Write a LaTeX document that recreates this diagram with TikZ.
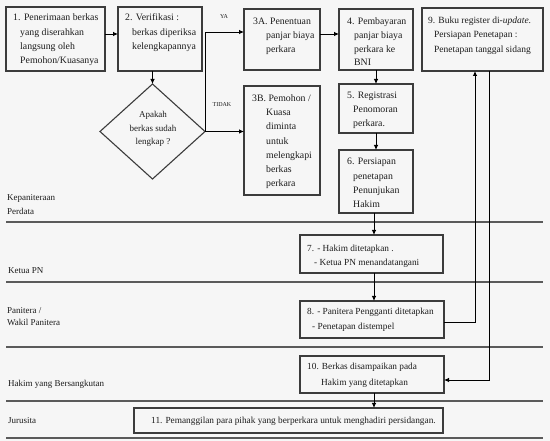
\documentclass[tikz,border=0pt]{standalone}
\usepackage{fontspec}
\setmainfont{Liberation Serif}
\usetikzlibrary{arrows.meta,shapes.geometric,calc}
\definecolor{bg}{RGB}{246,246,246}
\definecolor{ink}{RGB}{28,28,28}
\definecolor{edge}{RGB}{60,60,60}
\definecolor{lane}{RGB}{90,90,90}
\newcommand\mlines[1]{\begin{tabular}[t]{@{}l@{}}#1\end{tabular}}
\newcommand\mlinesc[1]{\begin{tabular}[t]{@{}c@{}}#1\end{tabular}}
\begin{document}
\begin{tikzpicture}[x=1pt,y=-1pt,
  box/.style={draw=edge,line width=1.1pt,anchor=north west,inner sep=0pt,outer sep=0pt},
  arr/.style={draw=black,line width=0.8pt,-{Latex[length=5pt,width=4.5pt]}},
  big/.style={anchor=base west,inner sep=0pt,text=ink,font=\fontsize{9.8}{14.2}\selectfont},
  small/.style={anchor=base west,inner sep=0pt,text=ink,font=\fontsize{9.3}{15}\selectfont},
  lanetxt/.style={anchor=base west,inner sep=0pt,text=ink,font=\fontsize{9}{13.5}\selectfont},
  tiny/.style={inner sep=0pt,text=ink,font=\fontsize{6}{7}\selectfont}]
\fill[bg] (0,0) rectangle (550,441);
\useasboundingbox (0,0) rectangle (550,441);

% lanes
\foreach \yy/\w in {222/1.1,282/1.8,347/1.1,401/1.1,438/1.1}
  \draw[draw=lane,line width=\w pt] (6,\yy) -- (543,\yy);

% boxes
\node[box,minimum width=99pt,minimum height=64pt] (b1) at (6,7) {};
\node[box,minimum width=84pt,minimum height=64pt] (b2) at (118,7) {};
\node[box,minimum width=76pt,minimum height=61pt] (b3a) at (244,9) {};
\node[box,minimum width=74pt,minimum height=61pt] (b4) at (339,9) {};
\node[box,minimum width=121pt,minimum height=63pt] (b9) at (422,8) {};
\node[box,minimum width=76pt,minimum height=109pt] (b3b) at (244,86) {};
\node[box,minimum width=74pt,minimum height=49pt] (b5) at (339,84) {};
\node[box,minimum width=74pt,minimum height=63pt] (b6) at (339,150) {};
\node[box,minimum width=143pt,minimum height=38pt] (b7) at (300,235) {};
\node[box,minimum width=144pt,minimum height=37pt] (b8) at (300,301) {};
\node[box,minimum width=144pt,minimum height=37pt] (b10) at (300,356) {};
\node[box,minimum width=309pt,minimum height=25pt] (b11) at (134,408) {};
\node[diamond,draw=edge,line width=1.1pt,minimum width=105pt,minimum height=95pt,inner sep=0pt,outer sep=0pt] (dm) at (152.5,131.5) {};

% texts
\node[big] (t1) at (13,21) {\mlines{1.\hspace*{3.5pt}Penerimaan berkas\\\hspace*{7pt}yang diserahkan\\\hspace*{7pt}langsung oleh\\\hspace*{7pt}Pemohon/Kuasanya}};
\node[big] (t2) at (125,21) {\mlines{2. Verifikasi :\\\hspace*{7pt}berkas diperiksa\\\hspace*{7pt}kelengkapannya}};
\node[big,font=\fontsize{9.8}{14}\selectfont] (t3a) at (253,24.5) {\mlines{3A. Penentuan\\\hspace*{13pt}panjar biaya\\\hspace*{13pt}perkara}};
\node[big,font=\fontsize{9.8}{13.8}\selectfont] (t4) at (347,24.5) {\mlines{4. Pembayaran\\\hspace*{7pt}panjar biaya\\\hspace*{7pt}perkara ke\\\hspace*{7pt}BNI}};
\node[big,font=\fontsize{9.5}{14.5}\selectfont] (t9) at (428,23.5) {\mlines{9. Buku register di-\textit{update}.\\\hspace*{6pt}Persiapan Penetapan :\\\hspace*{6pt}Penetapan tanggal sidang}};
\node[big] (t3b) at (252,101.5) {\mlines{3B. Pemohon /\\\hspace*{14pt}Kuasa\\\hspace*{14pt}diminta\\\hspace*{14pt}untuk\\\hspace*{14pt}melengkapi\\\hspace*{14pt}berkas\\\hspace*{14pt}perkara}};
\node[big,font=\fontsize{9.8}{14}\selectfont] (t5) at (347,99) {\mlines{5. Registrasi\\\hspace*{6pt}Penomoran\\\hspace*{6pt}perkara.}};
\node[big] (t6) at (347,165) {\mlines{6. Persiapan\\\hspace*{6pt}penetapan\\\hspace*{6pt}Penunjukan\\\hspace*{6pt}Hakim}};
\node[small,font=\fontsize{9.3}{14.5}\selectfont] (t7) at (307,251.5) {\mlines{7. - Hakim ditetapkan .\\\hspace*{7pt}- Ketua PN menandatangani}};
\node[small] (t8) at (307,315) {\mlines{8. - Panitera Pengganti ditetapkan\\\hspace*{5pt}- Penetapan distempel}};
\node[small,font=\fontsize{9.3}{16.5}\selectfont] (t10) at (307,369.5) {\mlines{10. Berkas disampaikan pada\\\hspace*{14pt}Hakim yang ditetapkan}};
\node[small] (t11) at (151,424) {11. Pemanggilan para pihak yang berperkara untuk menghadiri persidangan.};
\node[lanetxt,anchor=base,font=\fontsize{9}{13.2}\selectfont] (tdm) at (153,118) {\mlinesc{Apakah\\berkas sudah\\lengkap ?}};

% lane labels
\node[lanetxt,font=\fontsize{9}{14}\selectfont] (l1) at (7,201) {\mlines{Kepaniteraan\\Perdata}};
\node[lanetxt] (l2) at (8,273.5) {Ketua PN};
\node[lanetxt,font=\fontsize{9}{12.5}\selectfont] (l3) at (7,313.5) {\mlines{Panitera /\\Wakil Panitera}};
\node[lanetxt] (l4) at (8,386.5) {Hakim yang Bersangkutan};
\node[lanetxt] (l5) at (8,424) {Jurusita};

% connectors
\coordinate (p12) at ([yshift=-27pt]b1.north east);
\draw[arr] (p12) -- (p12 -| b2.west);
\draw[arr] (dm.north |- b2.south) -- (dm.north);
\coordinate (ya) at ([yshift=-23pt]b3a.north west);
\draw[arr] (dm.east) |- (ya);
\draw[arr] (dm.east) -- (dm.east -| b3b.west);
\node[tiny] (lya) at (224,17) {YA};
\node[tiny] (ltidak) at (222,105) {TIDAK};
\coordinate (p34) at ([yshift=-25pt]b3a.north east);
\draw[arr] (p34) -- (p34 -| b4.west);
\draw[arr] (b4.south) -- (b5.north);
\draw[arr] (b5.south) -- (b6.north);
\coordinate (c6) at ([xshift=-2pt]b6.south);
\draw[arr] (c6) -- (c6 |- b7.north);
\draw[arr] (c6 |- b7.south) -- (c6 |- b8.north);
\coordinate (p89) at ([yshift=-21pt]b8.north east);
\coordinate (in9) at ([xshift=-7.5pt]b9.south);
\draw[arr] (p89) -| (in9);
\coordinate (out9) at ([xshift=6.5pt]b9.south);
\coordinate (in10) at ([yshift=-24pt]b10.north east);
\draw[arr] (out9) |- (in10);
\draw[arr] (c6 |- b10.south) -- (c6 |- b11.north);
\end{tikzpicture}
\end{document}
